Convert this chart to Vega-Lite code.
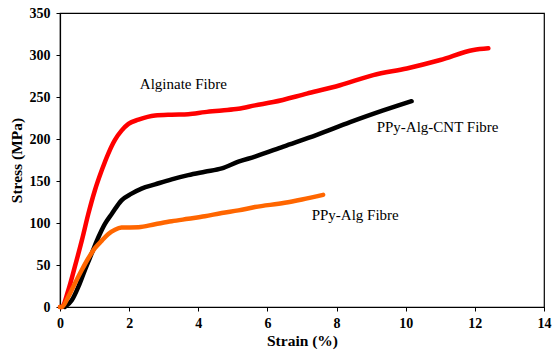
{
  "$schema": "https://vega.github.io/schema/vega-lite/v6.json",
  "autosize": "none",
  "width": 484,
  "height": 294,
  "padding": {"left": 60, "top": 13, "right": 8, "bottom": 44},
  "background": "white",
  "config": {
    "view": {"stroke": "black", "strokeWidth": 1.2},
    "font": "'Liberation Serif', 'Times New Roman', serif"
  },
  "datasets": {
    "curves": [
      {"fibre": "Alginate Fibre", "strain": 0.0, "stress": 0},
      {"fibre": "Alginate Fibre", "strain": 0.05, "stress": 0},
      {"fibre": "Alginate Fibre", "strain": 0.24, "stress": 20},
      {"fibre": "Alginate Fibre", "strain": 0.43, "stress": 48},
      {"fibre": "Alginate Fibre", "strain": 0.63, "stress": 79},
      {"fibre": "Alginate Fibre", "strain": 0.82, "stress": 111},
      {"fibre": "Alginate Fibre", "strain": 1.01, "stress": 139},
      {"fibre": "Alginate Fibre", "strain": 1.21, "stress": 163},
      {"fibre": "Alginate Fibre", "strain": 1.4, "stress": 183},
      {"fibre": "Alginate Fibre", "strain": 1.59, "stress": 199},
      {"fibre": "Alginate Fibre", "strain": 1.78, "stress": 210},
      {"fibre": "Alginate Fibre", "strain": 1.98, "stress": 218},
      {"fibre": "Alginate Fibre", "strain": 2.27, "stress": 223},
      {"fibre": "Alginate Fibre", "strain": 2.75, "stress": 228},
      {"fibre": "Alginate Fibre", "strain": 3.23, "stress": 229},
      {"fibre": "Alginate Fibre", "strain": 3.71, "stress": 229.5},
      {"fibre": "Alginate Fibre", "strain": 4.19, "stress": 232},
      {"fibre": "Alginate Fibre", "strain": 4.68, "stress": 234},
      {"fibre": "Alginate Fibre", "strain": 5.16, "stress": 236},
      {"fibre": "Alginate Fibre", "strain": 5.64, "stress": 240},
      {"fibre": "Alginate Fibre", "strain": 6.17, "stress": 244},
      {"fibre": "Alginate Fibre", "strain": 7.14, "stress": 254},
      {"fibre": "Alginate Fibre", "strain": 8.1, "stress": 264},
      {"fibre": "Alginate Fibre", "strain": 9.06, "stress": 276},
      {"fibre": "Alginate Fibre", "strain": 10.03, "stress": 284},
      {"fibre": "Alginate Fibre", "strain": 11.0, "stress": 294},
      {"fibre": "Alginate Fibre", "strain": 11.96, "stress": 306},
      {"fibre": "Alginate Fibre", "strain": 12.39, "stress": 308},
      {"fibre": "PPy-Alg-CNT Fibre", "strain": 0.14, "stress": 0},
      {"fibre": "PPy-Alg-CNT Fibre", "strain": 0.34, "stress": 8},
      {"fibre": "PPy-Alg-CNT Fibre", "strain": 0.53, "stress": 24},
      {"fibre": "PPy-Alg-CNT Fibre", "strain": 0.72, "stress": 44},
      {"fibre": "PPy-Alg-CNT Fibre", "strain": 0.92, "stress": 64},
      {"fibre": "PPy-Alg-CNT Fibre", "strain": 1.11, "stress": 83},
      {"fibre": "PPy-Alg-CNT Fibre", "strain": 1.3, "stress": 99},
      {"fibre": "PPy-Alg-CNT Fibre", "strain": 1.5, "stress": 111},
      {"fibre": "PPy-Alg-CNT Fibre", "strain": 1.78, "stress": 127},
      {"fibre": "PPy-Alg-CNT Fibre", "strain": 2.07, "stress": 135},
      {"fibre": "PPy-Alg-CNT Fibre", "strain": 2.36, "stress": 141},
      {"fibre": "PPy-Alg-CNT Fibre", "strain": 2.75, "stress": 146},
      {"fibre": "PPy-Alg-CNT Fibre", "strain": 3.23, "stress": 152},
      {"fibre": "PPy-Alg-CNT Fibre", "strain": 3.71, "stress": 157},
      {"fibre": "PPy-Alg-CNT Fibre", "strain": 4.19, "stress": 161},
      {"fibre": "PPy-Alg-CNT Fibre", "strain": 4.68, "stress": 165},
      {"fibre": "PPy-Alg-CNT Fibre", "strain": 5.16, "stress": 173},
      {"fibre": "PPy-Alg-CNT Fibre", "strain": 5.64, "stress": 179},
      {"fibre": "PPy-Alg-CNT Fibre", "strain": 6.46, "stress": 191},
      {"fibre": "PPy-Alg-CNT Fibre", "strain": 7.43, "stress": 205},
      {"fibre": "PPy-Alg-CNT Fibre", "strain": 8.39, "stress": 220},
      {"fibre": "PPy-Alg-CNT Fibre", "strain": 9.35, "stress": 234},
      {"fibre": "PPy-Alg-CNT Fibre", "strain": 9.79, "stress": 240},
      {"fibre": "PPy-Alg-CNT Fibre", "strain": 10.17, "stress": 245},
      {"fibre": "PPy-Alg Fibre", "strain": 0.0, "stress": 0},
      {"fibre": "PPy-Alg Fibre", "strain": 0.05, "stress": 0},
      {"fibre": "PPy-Alg Fibre", "strain": 0.24, "stress": 12},
      {"fibre": "PPy-Alg Fibre", "strain": 0.43, "stress": 28},
      {"fibre": "PPy-Alg Fibre", "strain": 0.63, "stress": 44},
      {"fibre": "PPy-Alg Fibre", "strain": 0.82, "stress": 58},
      {"fibre": "PPy-Alg Fibre", "strain": 1.01, "stress": 70},
      {"fibre": "PPy-Alg Fibre", "strain": 1.21, "stress": 79},
      {"fibre": "PPy-Alg Fibre", "strain": 1.4, "stress": 87},
      {"fibre": "PPy-Alg Fibre", "strain": 1.59, "stress": 92},
      {"fibre": "PPy-Alg Fibre", "strain": 1.78, "stress": 94.5},
      {"fibre": "PPy-Alg Fibre", "strain": 2.27, "stress": 95},
      {"fibre": "PPy-Alg Fibre", "strain": 2.75, "stress": 98.5},
      {"fibre": "PPy-Alg Fibre", "strain": 3.23, "stress": 102},
      {"fibre": "PPy-Alg Fibre", "strain": 3.71, "stress": 105},
      {"fibre": "PPy-Alg Fibre", "strain": 4.19, "stress": 108},
      {"fibre": "PPy-Alg Fibre", "strain": 4.68, "stress": 112},
      {"fibre": "PPy-Alg Fibre", "strain": 5.16, "stress": 115},
      {"fibre": "PPy-Alg Fibre", "strain": 5.64, "stress": 119},
      {"fibre": "PPy-Alg Fibre", "strain": 6.5, "stress": 124},
      {"fibre": "PPy-Alg Fibre", "strain": 7.0, "stress": 128},
      {"fibre": "PPy-Alg Fibre", "strain": 7.61, "stress": 133.5}
    ],
    "labels": [
      {"label": "Alginate Fibre", "strain": 2.31, "stress": 266},
      {"label": "PPy-Alg-CNT Fibre", "strain": 9.16, "stress": 214.5},
      {"label": "PPy-Alg Fibre", "strain": 7.28, "stress": 109}
    ]
  },
  "layer": [
    {
      "data": {"name": "curves"},
      "mark": {"type": "line", "strokeWidth": 4.5, "strokeCap": "round", "strokeJoin": "round", "interpolate": "monotone"},
      "encoding": {
        "x": {
          "field": "strain",
          "type": "quantitative",
          "scale": {"domain": [0, 14], "nice": false, "zero": true},
          "axis": {
            "title": "Strain (%)",
            "values": [0, 2, 4, 6, 8, 10, 12, 14],
            "grid": false,
            "domainColor": "black",
            "domainWidth": 1.2,
            "tickColor": "black",
            "tickSize": 4,
            "labelFont": "'Liberation Serif', 'Times New Roman', serif",
            "labelFontWeight": "bold",
            "labelFontSize": 14,
            "labelColor": "black",
            "labelPadding": 5,
            "labelFlush": false,
            "titleFont": "'Liberation Serif', 'Times New Roman', serif",
            "titleFontWeight": "bold",
            "titleFontSize": 15.5,
            "titleColor": "black",
            "titlePadding": 3
          }
        },
        "y": {
          "field": "stress",
          "type": "quantitative",
          "scale": {"domain": [0, 350], "nice": false},
          "axis": {
            "title": "Stress (MPa)",
            "values": [0, 50, 100, 150, 200, 250, 300, 350],
            "grid": false,
            "domainColor": "black",
            "domainWidth": 1.2,
            "tickColor": "black",
            "tickSize": 4,
            "labelFont": "'Liberation Serif', 'Times New Roman', serif",
            "labelFontWeight": "bold",
            "labelFontSize": 14,
            "labelColor": "black",
            "labelPadding": 6,
            "labelFlush": false,
            "titleFont": "'Liberation Serif', 'Times New Roman', serif",
            "titleFontWeight": "bold",
            "titleFontSize": 15.5,
            "titleColor": "black",
            "titlePadding": 5
          }
        },
        "color": {
          "field": "fibre",
          "type": "nominal",
          "scale": {
            "domain": ["Alginate Fibre", "PPy-Alg-CNT Fibre", "PPy-Alg Fibre"],
            "range": ["#FF0000", "#000000", "#FF6600"]
          },
          "legend": null
        }
      }
    },
    {
      "data": {"name": "labels"},
      "mark": {"type": "text", "align": "left", "baseline": "middle", "font": "'Liberation Serif', 'Times New Roman', serif", "fontSize": 15, "color": "black"},
      "encoding": {
        "x": {"field": "strain", "type": "quantitative"},
        "y": {"field": "stress", "type": "quantitative"},
        "text": {"field": "label"}
      }
    }
  ]
}
